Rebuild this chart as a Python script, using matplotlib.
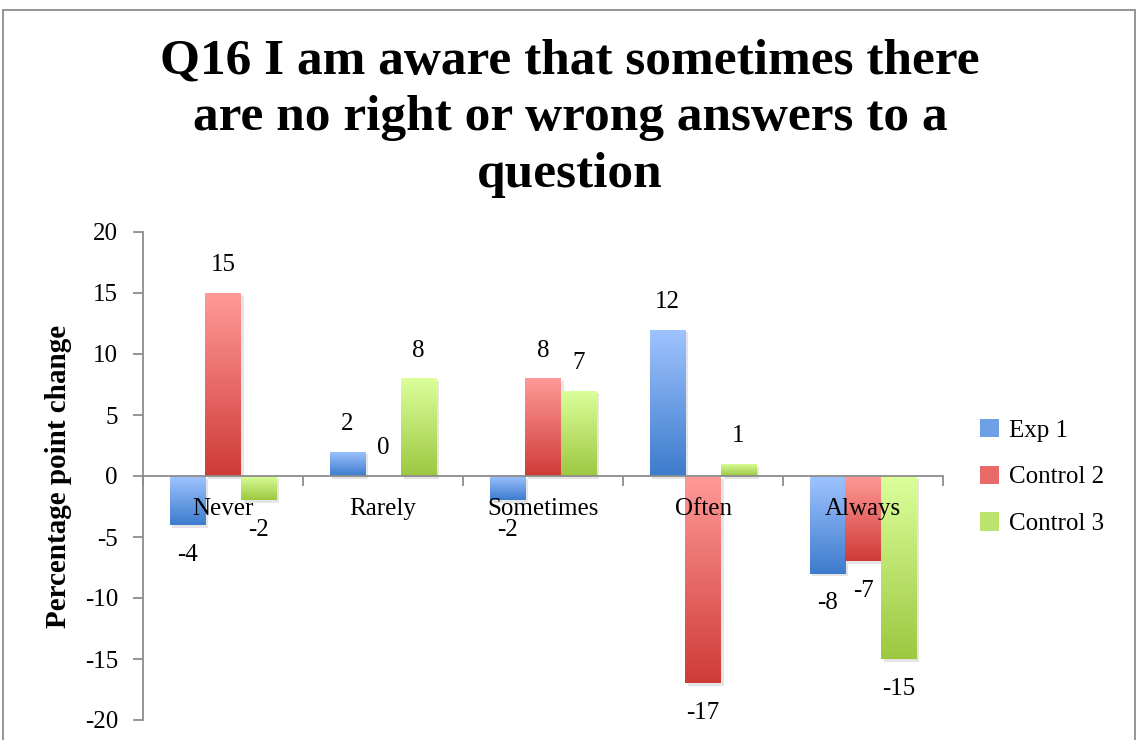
import numpy as np
import matplotlib
matplotlib.use("Agg")
import matplotlib.pyplot as plt
from matplotlib.patches import Rectangle
import matplotlib.patheffects as pe

categories = ["Never", "Rarely", "Sometimes", "Often", "Always"]
series_names = ["Exp 1", "Control 2", "Control 3"]
exp1 = [-4, 2, -2, 12, -8]
control2 = [15, 0, 8, -17, -7]
control3 = [-2, 8, 7, 1, -15]
yticks = [-20, -15, -10, -5, 0, 5, 10, 15, 20]
title = "Q16 I am aware that sometimes there\nare no right or wrong answers to a\nquestion"
ylabel = "Percentage point change"

light = ["#9fc4ff", "#ff9a98", "#dcff9b"]
dark = ["#3d7bcc", "#cf3b37", "#9cc841"]

serif = "Liberation Serif"
plt.rcParams['font.family'] = [serif, 'DejaVu Serif']

fig = plt.figure(figsize=(11.4, 7.4), dpi=100)
ax = fig.add_axes([143/1140, 1-720/740, 800/1140, (720-232)/740])

# outer frame
frame = Rectangle((3/1140, -0.1), (1135-3)/1140, 1.1 - 10/740, transform=fig.transFigure,
                  fill=False, edgecolor="#8c8c8c", linewidth=1.3, clip_on=False)
fig.patches.append(frame)

data = [exp1, control2, control3]
n = len(categories)
x = np.arange(n)
w = 1/4.5

def to_rgb(c):
    return np.array(matplotlib.colors.to_rgb(c))

for i, vals in enumerate(data):
    offs = x + (i - 1) * w
    bars = ax.bar(offs, vals, width=w, color=dark[i], edgecolor='none', zorder=1,
                  label=series_names[i])
    grad = np.linspace(0, 1, 256)[:, None, None]
    img = (1 - grad) * to_rgb(light[i]) + grad * to_rgb(dark[i])
    for b, v in zip(bars, vals):
        b.set_path_effects([pe.SimplePatchShadow(offset=(2, -2), shadow_rgbFace='#000000', alpha=0.10),
                            pe.Normal()])
        bx, by = b.get_x(), b.get_y()
        bw, bh = b.get_width(), b.get_height()
        if bh != 0:
            im = ax.imshow(img, extent=[bx, bx + bw, min(by, by + bh), max(by, by + bh)],
                           origin='upper', aspect='auto', zorder=1.5, interpolation='bilinear')
            im.set_clip_path(b)
        ax.annotate(str(v), (bx + bw/2, v), xytext=(0, 20 if v >= 0 else -21.5),
                    textcoords='offset points', ha='center', va='center', fontsize=18,
                    family=[serif, 'DejaVu Serif'], zorder=3)

ax.set_xlim(-0.5, n - 0.5)
ax.set_ylim(-20, 20)
ax.set_yticks(yticks)
ax.set_yticklabels([str(t) for t in yticks])
ax.set_xticks(x)
ax.set_xticklabels(categories)
ax.set_xticks(np.arange(n + 1) - 0.5, minor=True)
ax.tick_params(axis='x', which='major', length=0, pad=16, labelsize=18)
ax.tick_params(axis='x', which='minor', length=7, direction='out', color='#8c8c8c', width=1.3)
ax.tick_params(axis='y', length=7, direction='out', color='#8c8c8c', width=1.3, pad=11, labelsize=18)
ax.spines['bottom'].set_position(('data', 0))
ax.spines['bottom'].set_color('#8c8c8c')
ax.spines['bottom'].set_linewidth(1.3)
ax.spines['left'].set_color('#8c8c8c')
ax.spines['left'].set_linewidth(1.3)
ax.spines['top'].set_visible(False)
ax.spines['right'].set_visible(False)
ax.patch.set_alpha(0)

ax.set_ylabel(ylabel, fontsize=21, fontweight='bold', labelpad=9)
fig.text(0.5, 1 - 118/740, title, ha='center', va='center', fontsize=37,
         fontweight='bold', linespacing=1.3)

handles = [Rectangle((0, 0), 1, 1, facecolor=(to_rgb(light[i]) + to_rgb(dark[i])) / 2)
           for i in range(3)]
fig.legend(handles, series_names, loc='center left', bbox_to_anchor=(958/1140, 1 - 477/740),
           frameon=False, fontsize=18, handlelength=0.75, handleheight=0.75,
           handletextpad=0.4, labelspacing=0.95)

fig.savefig("out.png", dpi=100)
